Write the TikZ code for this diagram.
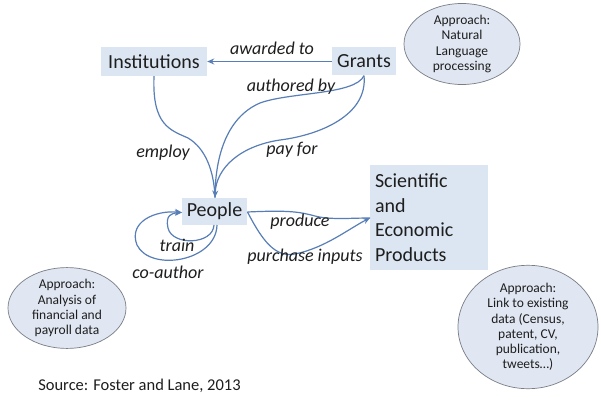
\documentclass[tikz,border=0pt]{standalone}
\usepackage{fontspec}
\setmainfont{Carlito}
\usetikzlibrary{arrows.meta,shapes.geometric}
\definecolor{boxblue}{RGB}{220,230,242}
\definecolor{linkblue}{RGB}{88,126,184}
\definecolor{txt}{RGB}{30,30,30}
\definecolor{ellin}{RGB}{224,231,242}
\definecolor{ellout}{RGB}{180,190,206}
\definecolor{elledge}{RGB}{120,125,134}
\pgfdeclareradialshading{ellshade}{\pgfpoint{0bp}{0bp}}{%
  color(0bp)=(ellin); color(30bp)=(ellin); color(47bp)=(ellout); color(50bp)=(ellout)}
\tikzset{
  box/.style={fill=boxblue, inner sep=0pt, text=txt, font=\fontsize{20}{24}\selectfont},
  link/.style={draw=linkblue, line width=1.2pt},
  tip/.style={-{Stealth[length=7pt,width=6pt]}},
  lbl/.style={text=txt, font=\fontsize{18}{20}\selectfont\itshape, inner sep=0pt},
  appr/.style={ellipse, draw=elledge, line width=0.7pt, shading=ellshade,
     inner sep=0pt, align=center, text=txt, font=\fontsize{13.5}{15.2}\selectfont},
}
\begin{document}
\begin{tikzpicture}[x=1pt,y=-1pt]
\useasboundingbox (0,0) rectangle (601,403);
\fill[white] (0,0) rectangle (601,403);

% boxes
\node[box, minimum width=106pt, minimum height=29pt] (inst) at (154,61.5) {Institutions};
\node[box, minimum width=64pt, minimum height=28pt] (grants) at (364,61.5) {Grants};
\node[box, minimum width=65pt, minimum height=27pt] (people) at (214.5,211.5) {People};
\node[box, minimum width=118pt, minimum height=105pt, text width=108pt, align=left,
      font=\fontsize{20}{24.5}\selectfont] (prod) at (429,217.5)
      {Scientific\\and\\Economic\\Products};

% ellipses
\node[appr, minimum width=116pt, minimum height=74pt] (nlp) at (462,44)
  {Approach:\\Natural\\Language\\processing};
\node[appr, minimum width=118pt, minimum height=74pt] (fin) at (67,308)
  {Approach:\\Analysis of\\financial and\\payroll data};
\node[appr, minimum width=140pt, minimum height=90pt] (link) at (528,327)
  {Approach:\\Link to existing\\data (Census,\\patent, CV,\\publication,\\tweets…)};

% connectors
\draw[link, tip] (grants.west) -- (inst.east);
\node[lbl] (lawd) at (272,48) {awarded to};

\coordinate (ptop) at (215,197.5);
\draw[link] (inst.south) .. controls (152,125) and (170,130) .. (188,138)
   .. controls (205,148) and (214,170) .. (ptop);
\draw[link] (grants.south) .. controls (355,95) and (290,92) .. (260,103)
   .. controls (225,118) and (215,160) .. (ptop);
\draw[link, tip] (grants.south) .. controls (368,115) and (320,135) .. (280,140)
   .. controls (240,146) and (216,168) .. (ptop);
\node[lbl] (lemp) at (163,153) {employ};
\node[lbl] (laut) at (291,87) {authored by};
\node[lbl] (lpay) at (292,150) {pay for};

\coordinate (pout) at (247.5,212);
\coordinate (pin) at (370,218);
\draw[link] (pout) .. controls (290,210) and (300,212) .. (315,216)
   .. controls (330,220) and (350,218) .. (pin);
\draw[link, tip] (pout) .. controls (262,240) and (275,258) .. (295,254)
   .. controls (325,248) and (350,228) .. (pin);
\node[lbl] (lpro) at (300,222) {produce};
\node[lbl] (lpur) at (305,257) {purchase inputs};

\coordinate (pbot1) at (214,225);
\coordinate (pbot2) at (217,225);
\coordinate (pleft) at (182,212.5);
\draw[link, tip] (pbot1) .. controls (213,245) and (172,246) .. (168,228)
   .. controls (165,215) and (172,213) .. (pleft);
\draw[link, tip] (pbot2) .. controls (216,262) and (150,272) .. (137,245)
   .. controls (128,222) and (155,210) .. (pleft);
\node[lbl] (ltr) at (177,245) {train};
\node[lbl] (lco) at (168,272) {co-author};

\node[text=txt, font=\fontsize{16.5}{18}\selectfont, inner sep=0pt] (src) at (139.5,386) {Source: Foster and Lane, 2013};
\end{tikzpicture}
\end{document}
